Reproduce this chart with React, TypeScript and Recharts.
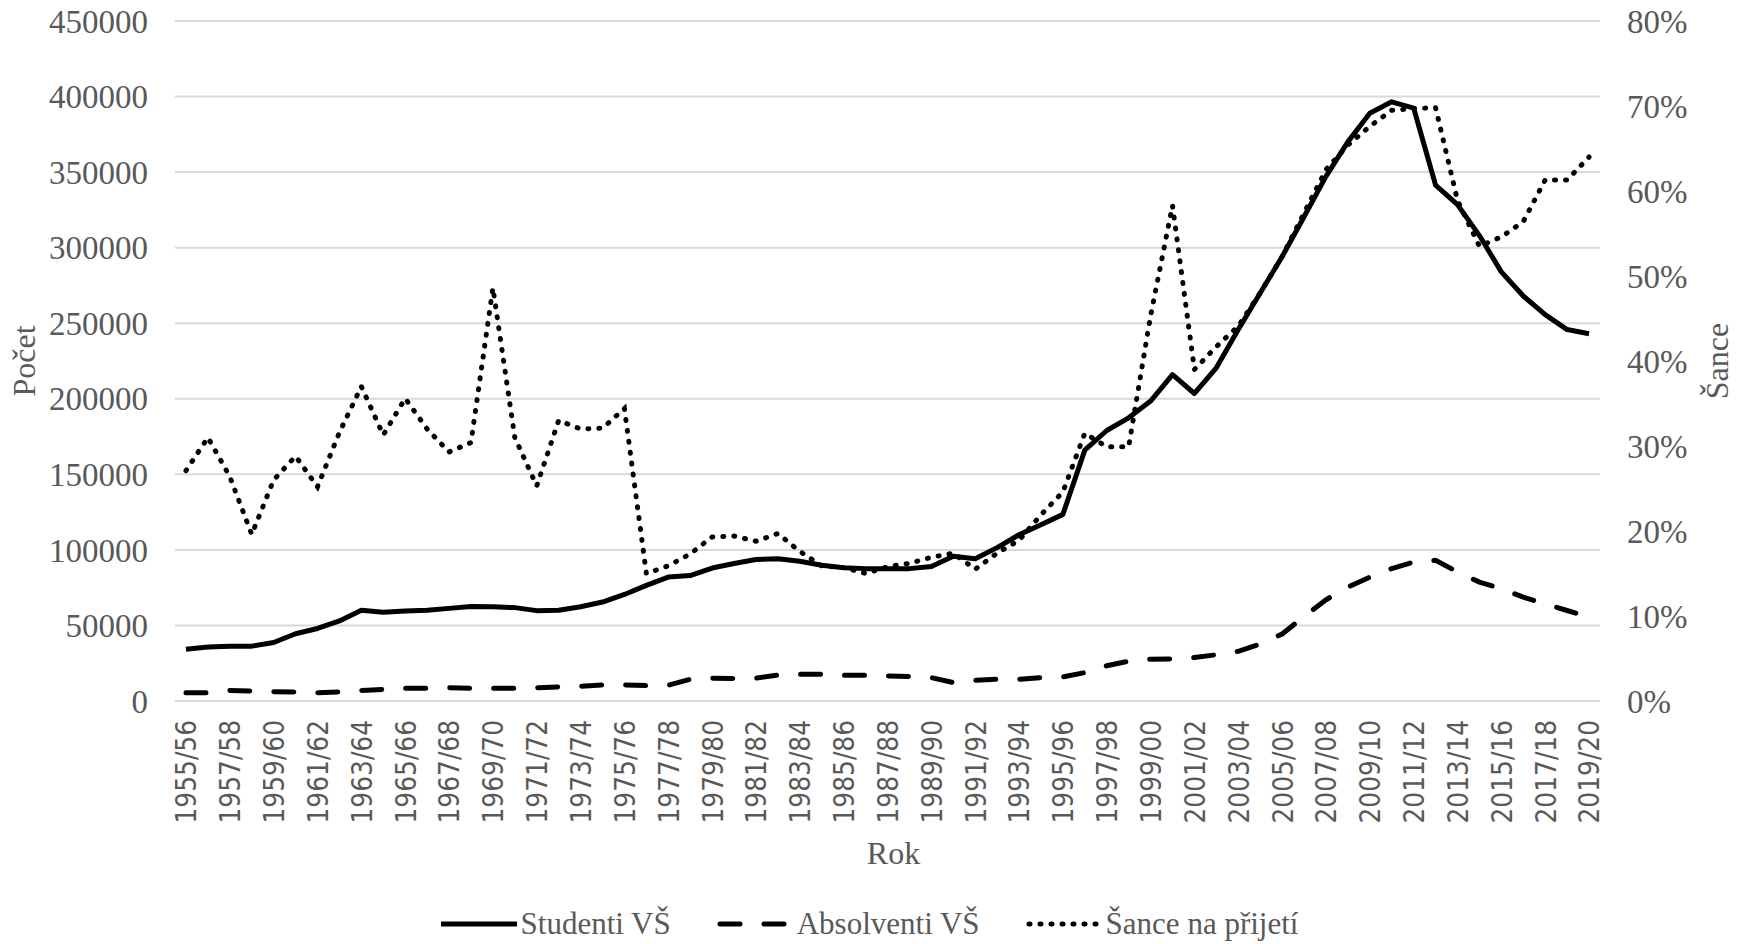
import React from 'react';
import { LineChart, Line, XAxis, YAxis, CartesianGrid, Legend } from 'recharts';

const categories = [
  '1955/56','1956/57','1957/58','1958/59','1959/60','1960/61','1961/62','1962/63','1963/64','1964/65',
  '1965/66','1966/67','1967/68','1968/69','1969/70','1970/71','1971/72','1972/73','1973/74','1974/75',
  '1975/76','1976/77','1977/78','1978/79','1979/80','1980/81','1981/82','1982/83','1983/84','1984/85',
  '1985/86','1986/87','1987/88','1988/89','1989/90','1990/91','1991/92','1992/93','1993/94','1994/95',
  '1995/96','1996/97','1997/98','1998/99','1999/00','2000/01','2001/02','2002/03','2003/04','2004/05',
  '2005/06','2006/07','2007/08','2008/09','2009/10','2010/11','2011/12','2012/13','2013/14','2014/15',
  '2015/16','2016/17','2017/18','2018/19','2019/20',
];

const studenti = [
  34300, 35800, 36300, 36300, 38700, 44500, 48000, 53000, 60000, 58700,
  59500, 60000, 61300, 62600, 62300, 61800, 59800, 60100, 62400, 65500,
  70500, 76500, 82000, 83000, 88000, 91000, 93600, 94200, 92500, 89800,
  88200, 87600, 87600, 87600, 89000, 95800, 94200, 101500, 110000, 116600,
  123500, 166000, 179000, 187400, 198500, 216000, 203500, 220500, 245800, 270000,
  294000, 320500, 347200, 370000, 389000, 396500, 392400, 341400, 328500, 308000,
  284000, 268000, 255700, 245800, 243000,
];

const absolventi = [
  5500, 5500, 7000, 6600, 6200, 6000, 5500, 6000, 7000, 7700,
  8400, 8400, 8800, 8400, 8400, 8400, 8800, 9300, 9800, 10600,
  10600, 10200, 10400, 14400, 15100, 14900, 15100, 17100, 17700, 17700,
  17100, 17100, 16600, 16200, 15500, 12200, 13700, 14400, 14400, 15500,
  16000, 18800, 23300, 26400, 27700, 27900, 28800, 30600, 32800, 37700,
  44300, 55900, 67000, 75400, 82000, 87600, 92000, 93100, 85400, 78700,
  74300, 68700, 64300, 59900, 55400,
];

const sance = [
  27.1, 31.0, 26.4, 19.6, 26.0, 28.8, 25.2, 31.6, 37.0, 31.3,
  35.6, 32.0, 29.3, 30.4, 48.6, 31.0, 25.3, 33.0, 32.0, 32.1,
  34.4, 15.0, 15.9, 17.3, 19.3, 19.4, 18.8, 19.7, 17.6, 15.9,
  15.7, 15.0, 15.8, 16.2, 16.9, 17.4, 15.5, 17.4, 18.9, 21.9,
  24.6, 31.5, 29.9, 29.9, 45.3, 58.3, 39.0, 41.7, 44.1, 48.0,
  52.3, 57.4, 62.5, 65.4, 67.6, 69.5, 69.7, 69.8, 58.9, 53.5,
  54.6, 56.4, 61.3, 61.3, 64.0,
];

const leftTicks = [0, 50000, 100000, 150000, 200000, 250000, 300000, 350000, 400000, 450000];
const rightTicks = [0, 10, 20, 30, 40, 50, 60, 70, 80];

const seriesNames = { studenti: 'Studenti VŠ', absolventi: 'Absolventi VŠ', sance: 'Šance na přijetí' };

const data = categories.map((rok, i) => ({
  rok,
  studenti: studenti[i],
  absolventi: absolventi[i],
  sance: sance[i],
}));

const GRAY = '#595959';
const SERIF = "'Liberation Serif', 'Times New Roman', serif";

const W = 1739;
const H = 944;
const LEFT_W = 175;
const RIGHT_W = 139;
const PLOT_W = W - LEFT_W - RIGHT_W;
const HALF_CAT = PLOT_W / categories.length / 2;

const XTick = (props: any) => {
  const { x, y, payload } = props;
  return (
    <g transform={`translate(${x},${y})`}>
      <text
        transform="rotate(-90) scale(0.86,1)"
        x={0}
        y={0}
        dy="0.36em"
        textAnchor="end"
        fill={GRAY}
        fontFamily="'DejaVu Sans', sans-serif"
        fontSize={29}
      >
        {payload.value}
      </text>
    </g>
  );
};

const LeftTitle = (props: any) => {
  const vb = props.viewBox;
  const cx = vb.x + 24;
  const cy = vb.y + vb.height / 2;
  return (
    <text transform={`translate(${cx},${cy}) rotate(-90)`} textAnchor="middle" dominantBaseline="central"
      fill={GRAY} fontFamily={SERIF} fontSize={32}>Počet</text>
  );
};

const RightTitle = (props: any) => {
  const vb = props.viewBox;
  const cx = vb.x + 117;
  const cy = vb.y + vb.height / 2;
  return (
    <text transform={`translate(${cx},${cy}) rotate(-90)`} textAnchor="middle" dominantBaseline="central"
      fill={GRAY} fontFamily={SERIF} fontSize={32}>Šance</text>
  );
};

const BottomTitle = (props: any) => {
  const vb = props.viewBox;
  const cx = vb.x + vb.width / 2 + 6;
  const cy = vb.y + 152;
  return (
    <text x={cx} y={cy} textAnchor="middle" dominantBaseline="central"
      fill={GRAY} fontFamily={SERIF} fontSize={32}>Rok</text>
  );
};

const legendItems = [
  { key: 'studenti', dash: undefined as string | undefined, cap: 'butt' },
  { key: 'absolventi', dash: '20 24', cap: 'round' },
  { key: 'sance', dash: '1 10', cap: 'round' },
];

const renderLegend = () => (
  <div style={{ display: 'flex', justifyContent: 'center', alignItems: 'center', height: 40,
    fontFamily: SERIF, fontSize: 31, color: GRAY, whiteSpace: 'nowrap' }}>
    {legendItems.map((it, idx) => (
      <div key={it.key} style={{ display: 'flex', alignItems: 'center', marginLeft: idx === 0 ? 0 : 46 }}>
        <svg width={76} height={12} style={{ marginRight: 4 }}>
          <line x1={it.cap === 'round' ? 3 : 0} y1={6} x2={it.cap === 'round' ? 73 : 76} y2={6}
            stroke="#000" strokeWidth={5} strokeDasharray={it.dash} strokeLinecap={it.cap as any} />
        </svg>
        <span>{(seriesNames as any)[it.key]}</span>
      </div>
    ))}
  </div>
);

export default function App() {
  return (
    <div style={{ position: 'absolute', left: 0, top: 0, width: W, height: H, background: '#fff' }}>
      <LineChart width={W} height={H} data={data} margin={{ top: 21, right: 0, bottom: 0, left: 0 }}>
        <CartesianGrid yAxisId="left" vertical={false} stroke="#d9d9d9" strokeWidth={2} />
        <XAxis
          dataKey="rok"
          interval={1}
          height={203}
          tick={<XTick />}
          tickLine={false}
          axisLine={false}
          tickMargin={13}
          padding={{ left: HALF_CAT, right: HALF_CAT }}
          label={<BottomTitle />}
        />
        <YAxis
          yAxisId="left"
          orientation="left"
          width={LEFT_W}
          domain={[0, 450000]}
          ticks={leftTicks}
          interval={0}
          tickLine={false}
          axisLine={false}
          tickMargin={21}
          tick={{ fill: GRAY, fontFamily: SERIF, fontSize: 33 }}
          label={<LeftTitle />}
        />
        <YAxis
          yAxisId="right"
          orientation="right"
          width={RIGHT_W}
          domain={[0, 80]}
          ticks={rightTicks}
          interval={0}
          tickLine={false}
          axisLine={false}
          tickMargin={21}
          tickFormatter={(v: number) => `${v}%`}
          tick={{ fill: GRAY, fontFamily: SERIF, fontSize: 33 }}
          label={<RightTitle />}
        />
        <Legend verticalAlign="bottom" content={renderLegend} />
        <Line yAxisId="left" type="linear" dataKey="studenti" name={seriesNames.studenti} stroke="#000"
          strokeWidth={5} dot={false} activeDot={false} isAnimationActive={false} strokeLinejoin="round" />
        <Line yAxisId="left" type="linear" dataKey="absolventi" name={seriesNames.absolventi} stroke="#000"
          strokeWidth={5} strokeDasharray="20 24" strokeLinecap="round" dot={false} activeDot={false}
          isAnimationActive={false} />
        <Line yAxisId="right" type="linear" dataKey="sance" name={seriesNames.sance} stroke="#000"
          strokeWidth={5} strokeDasharray="1 10" strokeLinecap="round" dot={false} activeDot={false}
          isAnimationActive={false} />
      </LineChart>
    </div>
  );
}
